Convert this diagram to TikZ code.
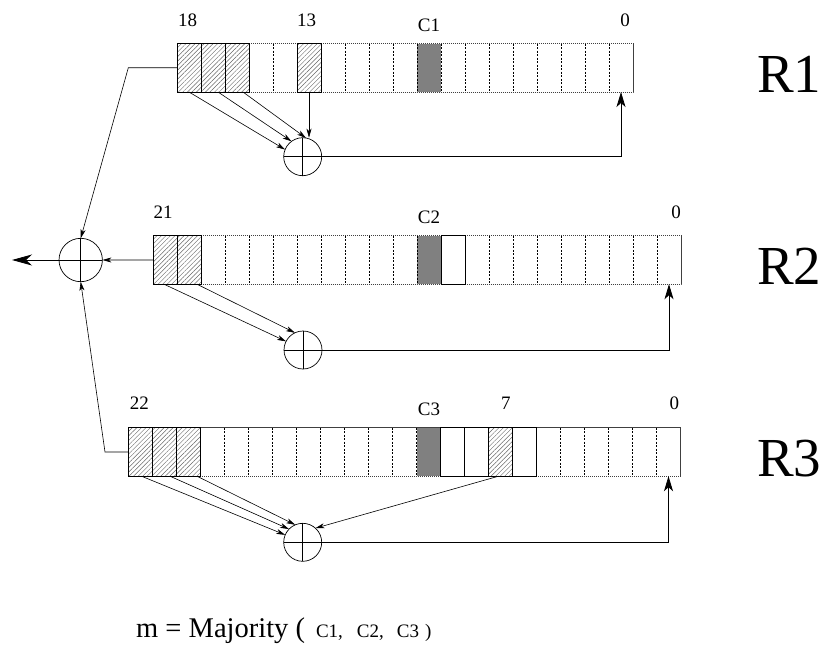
\documentclass[tikz,border=0pt]{standalone}
\usepackage{fontspec}
\setmainfont{Liberation Serif}
\usetikzlibrary{arrows.meta,patterns.meta}
\begin{document}
\begin{tikzpicture}[x=1pt,y=-1pt,
  cell/.style={draw=none,minimum width=24pt,minimum height=48.5pt,inner sep=0pt,outer sep=0pt},
  regbox/.style={draw=black!75,line width=1pt,dash pattern=on 1.3pt off 0.7pt},
  sepline/.style={draw=black,line width=0.6pt,dash pattern=on 2pt off 1.5pt},
  hatchcell/.style={pattern={Lines[angle=45,distance=3.2pt,line width=0.45pt]},pattern color=black!60,draw=black,line width=0.9pt},
  clkcell/.style={fill=black!50},
  solidcell/.style={draw=black,line width=0.9pt},
  xorsym/.style={circle,draw,line width=0.7pt,minimum size=38pt,inner sep=0pt,outer sep=0pt},
  bigxor/.style={xorsym,minimum size=43.4pt},
  tap/.style={line width=0.6pt,-{Stealth[length=9pt,width=5pt,inset=2.5pt]}},
  fb/.style={line width=0.8pt,-{Stealth[length=15pt,width=9pt,inset=4pt]}},
  outarrow/.style={line width=0.8pt,-{Stealth[length=20pt,width=11pt,inset=6pt]}},
  conn/.style={line width=0.6pt},
  lbl/.style={font=\fontsize{19}{21}\selectfont,inner sep=0pt,anchor=base},
  reglbl/.style={font=\fontsize{55}{60}\selectfont,inner sep=0pt,anchor=base west},
]
\useasboundingbox (0,0) rectangle (833,646);

% register cells
\foreach \r/\lx/\ty/\n in {1/177/43.5/19,2/153/235.7/22,3/128.5/427.7/23}{
  \pgfmathtruncatemacro\last{\n-1}
  \foreach \b in {0,...,\last}{
    \node[cell] (r\r-\b) at ({\lx+24*(\last-\b)+12},{\ty+24.25}) {};
  }
}

% clocking cells
\foreach \c in {r1-8,r2-10,r3-10}
  \fill[clkcell] (\c.north west) rectangle (\c.south east);

% separators
\foreach \r/\last in {1/18,2/21,3/22}{
  \foreach \b in {1,...,\last}
    \draw[sepline] (r\r-\b.north east) -- (r\r-\b.south east);
}

% outer boxes
\draw[regbox] (r1-18.north west) rectangle (r1-0.south east);
\draw[regbox] (r2-21.north west) rectangle (r2-0.south east);
\draw[regbox] (r3-22.north west) rectangle (r3-0.south east);

% solid and hatched cells
\foreach \c in {r2-9,r3-9,r3-8,r3-6}
  \draw[solidcell] (\c.north west) rectangle (\c.south east);
\foreach \c in {r1-18,r1-17,r1-16,r1-13,r2-21,r2-20,r3-22,r3-21,r3-20,r3-7}
  \draw[hatchcell] (\c.north west) rectangle (\c.south east);

% labels
\node[lbl] (l18) at (187.7,26) {18};
\node[lbl] (l13) at (306.7,26) {13};
\node[lbl] (lc1) at (429,31.5) {C1};
\node[lbl] (l10) at (625,26) {0};
\node[lbl] (l21) at (163,218) {21};
\node[lbl] (lc2) at (429,223.7) {C2};
\node[lbl] (l20) at (676,218) {0};
\node[lbl] (l22) at (139.3,409.7) {22};
\node[lbl] (lc3) at (429,415.7) {C3};
\node[lbl] (l7) at (505.8,409.7) {7};
\node[lbl] (l30) at (674.3,409.7) {0};

\node[reglbl] (R1) at (757,92) {R1};
\node[reglbl] (R2) at (757,284.5) {R2};
\node[reglbl] (R3) at (757,476.5) {R3};

% XOR gates
\node[xorsym] (x1) at (302.7,156.7) {};
\node[xorsym] (x2) at (303,350) {};
\node[xorsym] (x3) at (302.7,542.3) {};
\node[bigxor] (xl) at (80.7,260) {};
\foreach \x in {x1,x2,x3,xl}{
  \draw[line width=0.7pt] (\x.north) -- (\x.south);
  \draw[line width=0.7pt] (\x.west) -- (\x.east);
}

% taps R1
\draw[tap] (r1-18.south) -- (x1.158);
\draw[tap] ([xshift=5pt]r1-17.south) -- (x1.126);
\draw[tap] ([xshift=6pt]r1-16.south) -- (x1.80);
\draw[tap] (r1-13.south) -- (r1-13.south |- x1.north);
\draw[fb] (x1.east) -| (r1-0.south);

% taps R2
\draw[tap] ([xshift=-1pt]r2-21.south) -- (x2.153);
\draw[tap] ([xshift=8pt]r2-20.south) -- (x2.115);
\draw[fb] (x2.east) -| (r2-0.south);

% taps R3
\draw[tap] ([xshift=1pt]r3-22.south) -- (x3.157);
\draw[tap] ([xshift=5.5pt]r3-21.south) -- (x3.136);
\draw[tap] ([xshift=8.5pt]r3-20.south) -- (x3.113);
\draw[tap] ([xshift=-2pt]r3-7.south) -- (x3.48);
\draw[fb] (x3.east) -| (r3-0.south);

% output combiner
\coordinate (k1) at (128.3,67.75);
\coordinate (k3) at (105,451.95);
\coordinate (outp) at (12,260);
\draw[tap] (r1-18.west) -- (k1) -- (xl.north);
\draw[tap] (r2-21.west) -- (xl.east);
\draw[tap] (r3-22.west) -- (k3) -- (xl.south);
\draw[outarrow] (xl.west) -- (outp);

% formula
\node[anchor=base west,inner sep=0pt] (formula) at (136,637)
  {\fontsize{28.5}{30}\selectfont m = Majority (\hspace{11pt}{\fontsize{19}{21}\selectfont C1,\hspace{14pt}C2,\hspace{13pt}C3\hspace{6pt})}};
\end{tikzpicture}
\end{document}
